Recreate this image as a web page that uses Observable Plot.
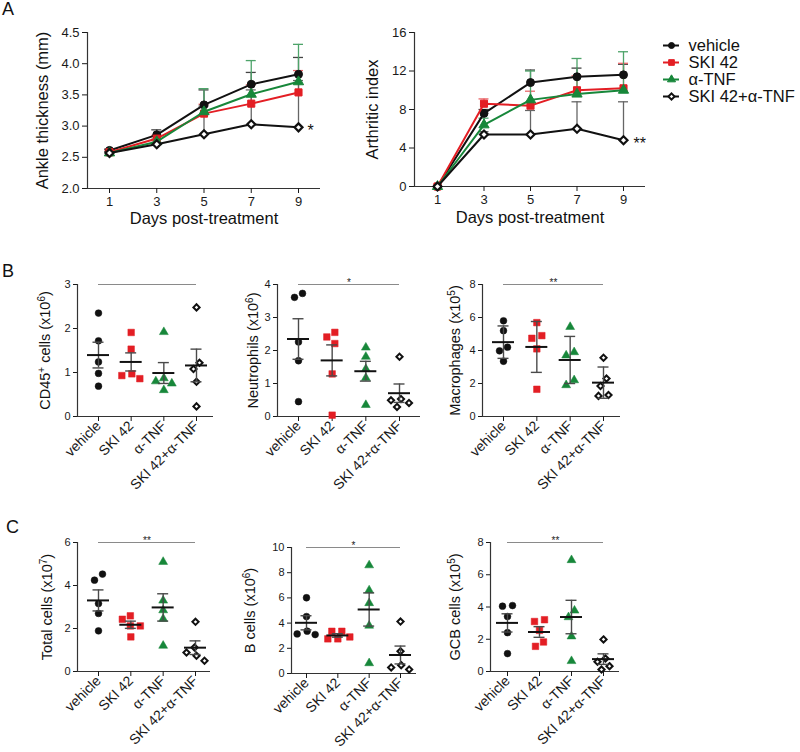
<!DOCTYPE html>
<html><head><meta charset="utf-8">
<script src="https://cdn.jsdelivr.net/npm/d3@7"></script>
<script src="https://cdn.jsdelivr.net/npm/@observablehq/plot@0.6"></script>
<style>
body{margin:0;background:#fff;font-family:"Liberation Sans",Arial,Helvetica,sans-serif;}
#fig{position:relative;width:800px;height:752px;overflow:hidden;background:#fff;}
.plabel{position:absolute;font-size:18px;line-height:18px;color:#111;}
</style></head>
<body><div id="fig"></div>
<script>
// ---------------- DATA ----------------
const groups = ["vehicle", "SKI 42", "α-TNF", "SKI 42+α-TNF"];
const days = [1, 3, 5, 7, 9];

// Panel A (left): ankle thickness (mm), mean and upper error
const ankleVehicle = [2.61, 2.86, 3.34, 3.67, 3.83];
const ankleSki     = [2.58, 2.80, 3.20, 3.36, 3.54];
const ankleTnf     = [2.57, 2.75, 3.23, 3.51, 3.71];
const ankleCombo   = [2.57, 2.71, 2.87, 3.03, 2.98];
const ankleVehicleErr = [0.02, 0.08, 0.24, 0.19, 0.27];
const ankleSkiErr     = [0.02, 0.05, 0.15, 0.30, 0.35];
const ankleTnfErr     = [0.02, 0.04, 0.37, 0.54, 0.60];
const ankleComboErr   = [0.02, 0.03, 0.45, 0.55, 0.75];
const ankleTicks = [2.0, 2.5, 3.0, 3.5, 4.0, 4.5];

// Panel A (right): arthritic index
const arthVehicle = [0, 7.6, 10.8, 11.4, 11.6];
const arthSki     = [0, 8.6, 8.4, 10.0, 10.2];
const arthTnf     = [0, 6.4, 9.0, 9.6, 10.0];
const arthCombo   = [0, 5.4, 5.4, 6.0, 4.8];
const arthVehicleErr = [0, 0.4, 1.3, 0.9, 1.1];
const arthSkiErr     = [0, 0.5, 1.5, 1.5, 2.6];
const arthTnfErr     = [0, 0.7, 3.0, 3.7, 4.0];
const arthComboErr   = [0, 0.3, 2.5, 2.8, 4.0];
const arthTicks = [0, 4, 8, 12, 16];

// Panel B / C: individual mice, one list per group (vehicle, SKI 42, α-TNF, SKI 42+α-TNF)
const cd45 = [[2.35, 1.72, 1.24, 0.98, 0.69], [1.91, 1.53, 0.97, 0.93, 0.86], [1.92, 0.87, 0.80, 0.75, 0.60], [2.48, 1.22, 1.08, 0.79, 0.23]];
const neutrophils = [[3.73, 3.61, 2.26, 1.69, 0.45], [2.55, 2.41, 2.21, 1.29, 0.04], [2.09, 1.81, 1.44, 1.17, 0.35], [1.81, 0.53, 0.49, 0.41, 0.29]];
const macrophages = [[5.80, 5.20, 4.20, 3.98, 3.35], [5.69, 4.90, 4.74, 4.10, 1.65], [5.43, 3.90, 3.70, 2.20, 1.90], [3.56, 2.30, 1.85, 1.30, 1.25]];
const totalCells = [[4.53, 4.25, 3.16, 2.70, 1.89], [2.59, 2.43, 2.12, 2.12, 1.61], [5.10, 3.30, 2.85, 2.45, 1.20], [2.31, 1.12, 0.88, 0.73, 0.50]];
const bCells = [[6.01, 4.52, 3.36, 3.14, 3.09], [3.35, 3.35, 2.90, 2.75, 2.75], [8.59, 6.60, 5.59, 3.80, 0.82], [4.12, 1.76, 0.66, 0.48, 0.32]];
const gcbCells = [[4.09, 4.05, 3.41, 2.41, 1.11], [3.21, 3.10, 2.55, 1.83, 1.56], [6.91, 3.78, 3.37, 2.18, 0.65], [1.99, 0.80, 0.60, 0.33, 0.12]];

// ---------------- STYLE ----------------
const FONT = '"Liberation Sans", Arial, Helvetica, sans-serif';
const AX = "#333";
const COLORS = ["#111111", "#e31e24", "#17873a", "#111111"];
const ERRCOL = ["#444444", "#e9686b", "#4ea46a", "#666666"];
const SYMBOLS = ["circle", "square", "triangle", "diamond2"];
const FILLS = ["#111111", "#e31e24", "#17873a", "#ffffff"];
const fig = document.getElementById("fig");

function supify(svg) {
  const NS = "http://www.w3.org/2000/svg";
  svg.querySelectorAll("text").forEach(t => {
    if (t.querySelector("tspan")) return;
    const s = t.textContent;
    if (!s.includes("^")) return;
    const parts = s.split(/\^(.)/);
    t.textContent = "";
    let shifted = false;
    parts.forEach((p, i) => {
      const ts = document.createElementNS(NS, "tspan");
      ts.textContent = p;
      if (i % 2 === 1) { ts.setAttribute("dy", "-5"); ts.setAttribute("font-size", "10px"); shifted = true; }
      else if (shifted) { ts.setAttribute("dy", "5"); shifted = false; }
      if (p !== "" || i % 2 === 1) t.appendChild(ts);
    });
  });
}
function place(svg, L, T) {
  svg.style.position = "absolute";
  svg.style.left = L + "px";
  svg.style.top = T + "px";
  supify(svg);
  fig.appendChild(svg);
}

// ---------------- PANEL A ----------------
function linePanel(o) {
  const unit = (o.p9 - o.p1) / 8;
  const xmin = 1 - (o.p1 - o.axisX) / unit, xmax = 9 + (o.end - o.p9) / unit;
  const capU = 5 / unit;
  const [y0, y1] = o.yDomain;
  const marks = [
    Plot.ruleX([xmin], {y1: y0, y2: y1, stroke: AX, strokeWidth: 1.2}),
    Plot.ruleY([y0], {x1: xmin, x2: xmax, stroke: AX, strokeWidth: 1.2}),
    Plot.axisX(days, {tickSize: 5, tickPadding: 3, fontSize: 13, label: null}),
    Plot.axisY(o.yTicks, {tickSize: 5, tickPadding: 3, fontSize: 13, label: null, tickFormat: o.yFmt})
  ];
  const rowsBy = o.means.map((m, s) => days.map((d, i) => ({day: d, v: m[i], e: o.errs[s][i]})));
  rowsBy.forEach((rows, s) => {
    const er = rows.filter(r => r.e > 0);
    marks.push(Plot.ruleX(er, {x: "day", y1: "v", y2: r => r.v + r.e, stroke: ERRCOL[s], strokeWidth: 1.3}));
    marks.push(Plot.ruleY(er, {y: r => r.v + r.e, x1: r => r.day - capU, x2: r => r.day + capU, stroke: ERRCOL[s], strokeWidth: 1.3}));
  });
  rowsBy.forEach((rows, s) => {
    marks.push(Plot.line(rows, {x: "day", y: "v", stroke: COLORS[s], strokeWidth: 2}));
    marks.push(Plot.dot(rows, {x: "day", y: "v", symbol: SYMBOLS[s], fill: FILLS[s], stroke: COLORS[s],
      strokeWidth: s === 3 ? 2.2 : 1, r: [4, 4, 3.8, 3.6][s]}));
  });
  const last = rowsBy[3][4];
  marks.push(Plot.text([last], {x: "day", y: "v", text: () => o.star, textAnchor: "start", dx: o.starDx, dy: 4, fontSize: 16, fill: "#111"}));
  marks.push(Plot.text([o.yLabel], {text: d => d, frameAnchor: "left", textAnchor: "middle", rotate: -90, dx: o.yLabelX - o.axisX, fontSize: 16.5, fill: "#111"}));
  marks.push(Plot.text(["Days post-treatment"], {text: d => d, frameAnchor: "bottom", textAnchor: "middle", dy: o.xLabelY - o.bottom, fontSize: 16.5, fill: "#111"}));
  const svg = Plot.plot({
    width: o.W, height: o.H,
    marginLeft: o.axisX - o.L, marginRight: o.L + o.W - o.end,
    marginTop: o.top - o.T, marginBottom: o.T + o.H - o.bottom,
    x: {domain: [xmin, xmax]}, y: {domain: o.yDomain},
    style: {fontFamily: FONT, color: "#1a1a1a", background: "transparent", overflow: "visible"},
    marks
  });
  place(svg, o.L, o.T);
}

linePanel({L: 0, T: 0, W: 340, H: 240, axisX: 87, top: 32, bottom: 188, end: 320, p1: 109, p9: 298,
  yDomain: [2.0, 4.5], yTicks: ankleTicks, yFmt: d3.format(".1f"), yLabel: "Ankle thickness (mm)", yLabelX: 42,
  xLabelY: 223, star: "*", starDx: 9,
  means: [ankleVehicle, ankleSki, ankleTnf, ankleCombo], errs: [ankleVehicleErr, ankleSkiErr, ankleTnfErr, ankleComboErr]});
linePanel({L: 340, T: 0, W: 315, H: 240, axisX: 414, top: 32, bottom: 186, end: 645, p1: 437, p9: 623,
  yDomain: [0, 16], yTicks: arthTicks, yFmt: d3.format("d"), yLabel: "Arthritic index", yLabelX: 372,
  xLabelY: 222, star: "**", starDx: 10,
  means: [arthVehicle, arthSki, arthTnf, arthCombo], errs: [arthVehicleErr, arthSkiErr, arthTnfErr, arthComboErr]});

// Legend
(function legend() {
  const svg = Plot.plot({
    width: 150, height: 84, margin: 0,
    x: {domain: [0, 150], range: [0, 150], axis: null},
    y: {type: "point", domain: groups, range: [14, 66.5], padding: 0, axis: null},
    style: {fontFamily: FONT, background: "transparent", overflow: "visible"},
    marks: [
      ...groups.map((g, s) => Plot.ruleY([g], {y: d => d, x1: 13, x2: 29, stroke: COLORS[s], strokeWidth: 2})),
      ...groups.map((g, s) => Plot.dot([g], {y: d => d, x: 21, symbol: SYMBOLS[s], fill: FILLS[s], stroke: COLORS[s], strokeWidth: s === 3 ? 2 : 1, r: [3, 3.2, 3, 2.8][s]})),
      Plot.text(groups, {y: d => d, x: 38, text: d => d, textAnchor: "start", fontSize: 16.5, fill: "#111"})
    ]
  });
  place(svg, 650, 30);
})();

// ---------------- PANELS B / C ----------------
function jitterPx(vals, ky, dmin = 9, step = 2.5) {
  const n = vals.length;
  const order = d3.range(n).sort((a, b) => vals[b] - vals[a]);
  const placed = [], off = new Array(n).fill(0);
  for (const i of order) {
    const y = vals[i] * ky;
    let best = 0;
    for (let k = 0; k < 40; k++) {
      const c = k === 0 ? 0 : (k % 2 ? -1 : 1) * Math.ceil(k / 2) * step;
      if (placed.every(p => Math.hypot(p.x - c, p.y - y) >= dmin)) { best = c; break; }
    }
    off[i] = best; placed.push({x: best, y, i});
  }
  const sorted = placed.slice().sort((a, b) => b.y - a.y);
  let cl = [sorted[0]];
  const flush = () => { const m = d3.mean(cl, p => off[p.i]); cl.forEach(p => off[p.i] -= m); };
  for (let k = 1; k < sorted.length; k++) {
    if (sorted[k - 1].y - sorted[k].y < dmin) cl.push(sorted[k]);
    else { flush(); cl = [sorted[k]]; }
  }
  flush();
  return off;
}

function scatterPanel(o, values) {
  const unit = (o.c3 - o.c0) / 3;
  const xmin = -(o.c0 - o.axisX) / unit, xmax = 3 + (o.end - o.c3) / unit;
  const ky = (o.bottom - o.top) / o.yMax;
  const pts = [];
  values.forEach((vals, g) => {
    const off = jitterPx(vals, ky, 8.5, 2);
    vals.forEach((v, k) => pts.push({g, v, x: g + off[k] / unit}));
  });
  const stats = values.map((vals, g) => {
    const m = d3.mean(vals), sd = d3.deviation(vals);
    const e = o.err === "sd" ? sd : sd / Math.sqrt(vals.length);
    return {g, m, lo: m - e, hi: m + e};
  });
  const meanU = 11 / unit, capU = 5.5 / unit;
  const marks = [
    Plot.ruleX([xmin], {y1: 0, y2: o.yMax, stroke: AX, strokeWidth: 1.2}),
    Plot.ruleY([0], {x1: xmin, x2: xmax, stroke: AX, strokeWidth: 1.2}),
    Plot.axisY(o.yTicks, {tickSize: 4, tickPadding: 3, fontSize: 11, label: null}),
    Plot.axisX([0, 1, 2, 3], {tickSize: 5, tickPadding: 2, tickRotate: -45, fontSize: 14, label: null, tickFormat: i => groups[i]}),
    Plot.ruleY([o.yMax], {x1: 0, x2: 3, stroke: "#8a8a8a", strokeWidth: 1}),
    Plot.text([o.sig], {x: 1.5, y: o.yMax, text: d => d, lineAnchor: "bottom", dy: 1, fontSize: 10, fill: "#222"})
  ];
  [0, 1, 2, 3].forEach(s => {
    marks.push(Plot.dot(pts.filter(p => p.g === s), {x: "x", y: "v", symbol: SYMBOLS[s], fill: FILLS[s], stroke: COLORS[s],
      strokeWidth: s === 3 ? 2 : 0.5, r: [3.4, 3.7, 3.3, 2.8][s]}));
  });
  marks.push(Plot.ruleX(stats, {x: "g", y1: "lo", y2: "hi", stroke: "#4a4a4a", strokeWidth: 1.4}));
  marks.push(Plot.ruleY(stats, {y: "hi", x1: d => d.g - capU, x2: d => d.g + capU, stroke: "#4a4a4a", strokeWidth: 1.4}));
  marks.push(Plot.ruleY(stats, {y: "lo", x1: d => d.g - capU, x2: d => d.g + capU, stroke: "#4a4a4a", strokeWidth: 1.4}));
  marks.push(Plot.ruleY(stats, {y: "m", x1: d => d.g - meanU, x2: d => d.g + meanU, stroke: "#111", strokeWidth: 2}));
  marks.push(Plot.text([o.yLabel], {text: d => d, frameAnchor: "left", textAnchor: "middle", rotate: -90, dx: o.yLabelX - o.axisX, fontSize: 14.5, fill: "#111"}));
  const svg = Plot.plot({
    width: o.W, height: o.H,
    marginLeft: o.axisX - o.L, marginRight: o.L + o.W - o.end,
    marginTop: o.top - o.T, marginBottom: o.T + o.H - o.bottom,
    x: {domain: [xmin, xmax]}, y: {domain: [0, o.yMax]},
    style: {fontFamily: FONT, color: "#1a1a1a", background: "transparent", overflow: "visible"},
    marks
  });
  place(svg, o.L, o.T);
}

scatterPanel({L: 0, T: 262, W: 225, H: 240, axisX: 77, top: 284, bottom: 416, end: 213, c0: 98, c3: 196,
  yMax: 3, yTicks: [0, 1, 2, 3], yLabel: "CD45^+ cells (x10^6)", yLabelX: 45, err: "sem", sig: ""}, cd45);
scatterPanel({L: 235, T: 262, W: 195, H: 240, axisX: 277, top: 284, bottom: 416, end: 420, c0: 298, c3: 399,
  yMax: 4, yTicks: [0, 1, 2, 3, 4], yLabel: "Neutrophils (x10^6)", yLabelX: 253, err: "sem", sig: "*"}, neutrophils);
scatterPanel({L: 440, T: 262, W: 190, H: 240, axisX: 482, top: 284, bottom: 416, end: 620, c0: 503, c3: 603,
  yMax: 8, yTicks: [0, 2, 4, 6, 8], yLabel: "Macrophages (x10^5)", yLabelX: 455, err: "sd", sig: "**"}, macrophages);
scatterPanel({L: 0, T: 520, W: 225, H: 232, axisX: 77, top: 542, bottom: 671, end: 210, c0: 98, c3: 195,
  yMax: 6, yTicks: [0, 2, 4, 6], yLabel: "Total cells (x10^7)", yLabelX: 47, err: "sem", sig: "**"}, totalCells);
scatterPanel({L: 235, T: 520, W: 195, H: 232, axisX: 291, top: 547, bottom: 673, end: 416, c0: 306, c3: 400,
  yMax: 10, yTicks: [0, 2, 4, 6, 8, 10], yLabel: "B cells (x10^6)", yLabelX: 250, err: "sem", sig: "*"}, bCells);
scatterPanel({L: 440, T: 520, W: 190, H: 232, axisX: 490, top: 542, bottom: 671, end: 619, c0: 507, c3: 603,
  yMax: 8, yTicks: [0, 2, 4, 6, 8], yLabel: "GCB cells (x10^5)", yLabelX: 455, err: "sem", sig: "**"}, gcbCells);

// panel letters
[["A", 2, 0], ["B", 2, 262], ["C", 6, 518]].forEach(([t, x, y]) => {
  const d = document.createElement("div");
  d.className = "plabel"; d.textContent = t; d.style.left = x + "px"; d.style.top = y + "px";
  fig.appendChild(d);
});
</script></body></html>
